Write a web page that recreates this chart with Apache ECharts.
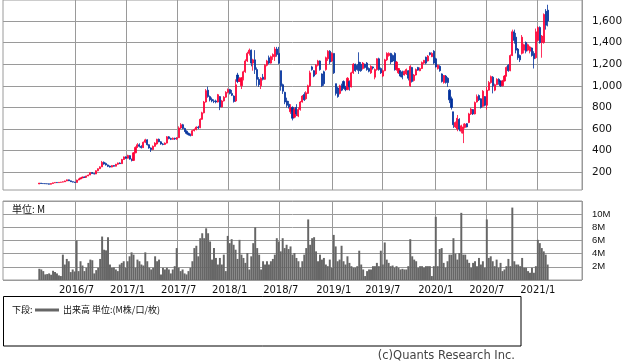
<!DOCTYPE html>
<html><head><meta charset="utf-8">
<script src="https://cdn.jsdelivr.net/npm/echarts@6.0.0/dist/echarts.min.js"></script>
<style>html,body{margin:0;padding:0;background:#fff}#c{width:638px;height:362px}</style>
</head><body><div id="c"></div>
<script>
// weekly categories: Mondays starting 2015/10/19, 295 weeks on the axis
const firstWeek = [2015, 10, 19];
const weekCount = 295;
const dataOffset = 18; // first traded week = 2016/02/22
const xTickLabels = ['2016/7','2017/1','2017/7','2018/1','2018/7','2019/1','2019/7','2020/1','2020/7','2021/1'];

const opens = [
92,100,96,95,94,93,89,96,102,106,
104,107,109,112,120,130,121,113,109,106,
128,138,148,156,153,166,175,197,188,184,
214,233,250,292,282,268,258,248,262,256,
274,286,280,318,342,330,354,322,310,380,
430,455,440,428,478,500,455,425,410,440,
462,505,482,462,458,470,528,512,505,515,
508,520,610,640,605,580,560,548,540,585,
595,618,612,690,750,850,960,900,875,860,
860,850,900,805,860,895,940,965,930,905,
860,1100,1040,1000,1075,1130,1230,1300,1330,1210,
1240,1150,1060,1000,1080,1060,1190,1260,1210,1270,
1270,1340,1300,1140,1010,940,860,830,760,800,
710,800,720,780,850,920,880,930,1000,1175,
1140,1110,1190,1230,1110,1130,1150,1250,1320,1230,
1300,1020,980,930,1000,1040,985,965,1040,990,
1120,1200,1190,1220,1200,1160,1200,1210,1160,1120,
1175,1080,1150,1250,1160,1090,1140,1240,1280,1300,
1280,1300,1150,1120,1140,1130,1100,1110,1140,1000,
1170,1050,1100,1170,1140,1160,1210,1265,1230,1305,
1270,1320,1250,1160,1180,1110,1030,1090,1070,960,
880,760,620,600,690,580,560,615,650,660,
740,780,740,850,910,880,810,900,820,960,
1030,1080,960,1010,1060,1045,1000,1045,1090,1190,
1140,1280,1500,1450,1340,1280,1300,1330,1400,1330,
1320,1350,1300,1260,1420,1540,1400,1400,1690,1700];

const closes = [
100,96,95,94,93,90,96,102,106,104,
107,109,112,120,130,121,113,109,106,128,
138,148,156,153,166,175,196,188,184,214,
233,250,292,276,268,255,248,262,256,274,
286,280,318,342,330,356,322,310,380,430,
455,440,428,478,500,455,425,410,440,470,
505,482,462,458,470,528,512,505,515,508,
520,610,640,605,580,560,548,540,585,595,
618,612,690,750,850,955,900,870,860,855,
850,918,805,860,895,940,965,930,912,855,
1010,1040,1065,1075,1130,1230,1300,1330,1210,1240,
1150,1060,1010,1070,1060,1190,1230,1210,1270,1290,
1340,1290,1210,1000,950,850,820,800,800,700,
780,740,780,850,905,870,935,1000,1120,1150,
1090,1190,1230,1150,1000,1020,1260,1320,1220,1300,
1120,930,900,1000,960,985,965,1070,990,1120,
1200,1140,1150,1140,1140,1210,1170,1150,1135,1180,
1165,1150,1250,1150,1120,1140,1240,1300,1300,1220,
1230,1150,1220,1160,1090,1080,1135,1150,1070,1180,
1040,1100,1150,1145,1160,1215,1235,1210,1275,1290,
1300,1210,1175,1190,1140,1040,1095,1030,1030,870,
800,640,660,700,600,630,620,645,620,740,
785,740,845,900,870,800,950,820,960,1030,
1085,1000,1010,1060,1040,1000,1045,1090,1170,1140,
1280,1500,1420,1330,1260,1240,1450,1380,1320,1380,
1360,1280,1250,1500,1540,1400,1460,1660,1560,1600];

const lows = [
90,94,93,92,91,88,87,95,100,102,
103,105,107,111,118,119,111,106,104,105,
126,136,145,150,151,164,173,185,180,183,
210,230,248,270,262,248,244,246,252,254,
270,276,278,314,324,326,316,300,304,376,
426,430,420,425,470,448,418,388,405,436,
455,478,455,450,452,466,505,498,500,500,
500,518,600,598,572,550,540,532,536,578,
588,600,608,685,745,845,890,855,848,840,
838,845,775,800,855,890,930,920,905,845,
850,1025,1035,970,1050,1120,1220,1280,1180,1140,
1110,1000,990,970,1050,1055,1180,1200,1205,1240,
1230,1270,1200,955,925,830,800,790,740,680,
700,720,710,770,845,860,870,925,990,1140,
1080,1100,1180,1140,990,1000,1140,1230,1200,1220,
1110,910,890,920,950,970,950,960,955,985,
1110,1130,1140,1110,1130,1150,1160,1140,1125,1110,
1150,1060,1140,1140,1110,1080,1135,1230,1270,1200,
1220,1140,1140,1110,1080,1060,1095,1100,1050,990,
1030,1040,1095,1140,1135,1155,1200,1200,1225,1280,
1265,1200,1170,1150,1130,1030,1020,1020,990,840,
780,610,610,580,580,560,470,605,615,655,
730,730,735,845,860,790,800,810,780,955,
1020,930,950,1005,1010,990,995,1040,1085,1130,
1135,1275,1390,1300,1240,1220,1290,1300,1300,1320,
1300,1270,1160,1250,1410,1390,1260,1390,1520,1550];

const highs = [
102,101,98,97,96,95,98,104,108,108,
109,111,115,123,133,132,123,115,111,131,
141,151,160,159,168,178,199,202,192,218,
236,255,305,300,290,272,262,266,266,278,
290,292,324,346,348,362,358,326,386,440,
470,468,450,485,510,505,460,430,448,478,
510,512,488,470,476,535,535,520,522,520,
525,625,655,648,612,588,568,558,592,605,
625,630,700,760,860,970,992,910,892,875,
872,925,905,870,905,950,975,972,962,912,
1060,1120,1080,1080,1140,1245,1315,1345,1335,1250,
1330,1170,1080,1080,1110,1200,1240,1280,1280,1300,
1360,1360,1360,1140,1020,945,890,860,830,810,
800,830,800,860,915,940,950,1010,1140,1185,
1145,1200,1240,1235,1115,1140,1270,1330,1330,1310,
1300,1020,990,1010,1020,1050,1000,1080,1050,1130,
1210,1205,1200,1310,1220,1220,1205,1220,1170,1190,
1180,1160,1255,1260,1170,1150,1250,1310,1310,1305,
1290,1310,1230,1165,1145,1140,1140,1160,1145,1190,
1175,1110,1160,1175,1170,1225,1240,1270,1285,1310,
1310,1330,1260,1195,1190,1115,1100,1100,1080,970,
900,760,670,730,700,640,650,655,655,750,
795,785,855,920,920,885,960,905,990,1045,
1095,1090,1020,1070,1070,1050,1055,1100,1180,1200,
1290,1520,1520,1490,1350,1290,1470,1390,1410,1390,
1370,1355,1320,1530,1550,1550,1470,1670,1710,1750];

// weekly volume in millions
const volumes = [
1.7,1.6,1.35,0.85,0.9,1.0,0.8,1.4,1.2,1.0,
0.7,0.6,3.85,2.35,3.2,2.85,1.2,1.6,1.3,6.0,
1.35,2.85,2.2,1.35,1.85,2.6,3.1,3.0,1.0,1.5,
1.85,3.2,6.6,4.6,4.5,6.5,2.35,1.85,1.9,1.6,
1.35,2.35,2.6,2.85,1.85,2.85,3.6,4.2,3.85,1.85,
3.1,2.85,2.35,2.2,4.2,2.85,1.85,1.6,1.85,3.6,
2.85,3.1,0.85,1.85,1.6,1.85,1.6,1.0,1.6,2.1,
4.85,1.85,1.35,1.6,1.0,0.85,1.35,1.85,2.85,4.85,
5.2,3.6,6.35,7.1,6.35,7.85,7.1,5.85,3.1,4.85,
3.35,2.35,3.35,2.35,3.85,1.35,6.7,5.6,6.2,5.35,
4.6,3.2,6.1,3.85,3.35,2.6,4.1,1.6,3.6,5.6,
8.0,4.85,3.85,1.6,2.85,2.35,2.85,2.35,2.85,3.2,
3.85,6.35,5.85,4.35,6.35,4.85,5.35,4.7,5.1,3.85,
4.1,3.35,2.85,1.85,2.85,3.85,4.85,9.2,5.35,6.35,
6.5,4.35,2.85,3.85,3.1,3.35,2.35,2.1,3.1,1.85,
6.85,5.1,2.85,3.1,5.2,2.85,2.35,3.6,2.6,2.1,
1.85,1.85,2.1,4.45,2.35,1.6,0.6,1.35,1.6,1.6,
2.1,2.1,2.6,2.1,4.45,2.35,5.7,3.1,2.6,2.1,
2.2,1.85,2.1,1.85,1.6,1.7,1.6,1.6,2.1,6.2,
3.6,3.1,2.85,1.85,2.1,2.1,1.85,2.1,2.1,2.1,
0.6,2.1,9.6,2.1,4.7,4.85,2.6,1.85,2.85,3.85,
3.85,6.35,4.0,3.1,4.1,10.2,3.85,3.85,3.1,2.6,
1.85,2.6,2.85,2.1,3.35,2.35,2.85,1.85,9.2,3.35,
3.6,2.85,2.1,3.1,1.85,2.6,1.35,1.6,2.1,3.2,
2.1,11.0,2.85,2.35,2.35,2.1,3.35,1.85,1.85,1.35,
1.1,1.85,1.1,2.1,6.1,5.6,4.85,4.35,3.85,2.35];

// ---------- build ----------
const pad = n => String(n).padStart(2, '0');
const categories = [];
const t0 = Date.UTC(firstWeek[0], firstWeek[1] - 1, firstWeek[2]);
for (let k = 0; k < weekCount; k++) {
  const d = new Date(t0 + k * 7 * 86400000);
  categories.push(d.getUTCFullYear() + '/' + pad(d.getUTCMonth() + 1) + '/' + pad(d.getUTCDate()));
}
const shortLabel = v => { const p = v.split('/'); return p[0] + '/' + (+p[1]); };
const isMark = (idx, v) => { const p = v.split('/'); return +p[2] <= 7 && xTickLabels.indexOf(shortLabel(v)) >= 0; };

const candleData = [], volData = [];
for (let k = 0; k < weekCount; k++) {
  const i = k - dataOffset;
  if (i >= 0 && i < opens.length) {
    candleData.push([opens[i], closes[i], lows[i], highs[i]]);
    volData.push(volumes[i]);
  } else {
    candleData.push(['-', '-', '-', '-']);
    volData.push('-');
  }
}

const GRID = '#9a9a9a';
const UP = '#ff0036', DOWN = '#00309c';
const chart = echarts.init(document.getElementById('c'), null, {renderer: 'canvas'});
chart.setOption({
  animation: false,
  backgroundColor: '#fff',
  grid: [
    {left: 3, right: 56, top: 0, height: 190, show: true, borderColor: GRID, borderWidth: 1, backgroundColor: 'transparent'},
    {left: 3, right: 56, top: 201, height: 79, show: true, borderColor: GRID, borderWidth: 1, backgroundColor: 'transparent'}
  ],
  xAxis: [
    {type: 'category', gridIndex: 0, data: categories, boundaryGap: true,
     axisLine: {show: false}, axisTick: {show: false}, axisLabel: {show: false},
     splitLine: {show: true, interval: isMark, lineStyle: {color: GRID, width: 1}}},
    {type: 'category', gridIndex: 1, data: categories, boundaryGap: true,
     axisLine: {show: false}, axisTick: {show: false},
     axisLabel: {interval: isMark, formatter: shortLabel, fontSize: 10, margin: 5, color: '#111', fontFamily: 'DejaVu Sans'},
     splitLine: {show: true, interval: isMark, lineStyle: {color: GRID, width: 1}}}
  ],
  yAxis: [
    {type: 'value', gridIndex: 0, position: 'right', min: 36, max: 1794, splitNumber: 9, scale: true,
     axisLine: {show: false}, axisTick: {show: false},
     axisLabel: {showMinLabel: false, showMaxLabel: false, margin: 10, fontSize: 10.5, color: '#111', fontFamily: 'DejaVu Sans',
       formatter: v => Number(v).toLocaleString('en-US')},
     splitLine: {show: true, showMinLine: false, showMaxLine: false, lineStyle: {color: GRID, width: 1}}},
    {type: 'value', gridIndex: 1, position: 'right', min: 0, max: 12, interval: 2,
     axisLine: {show: false}, axisTick: {show: false},
     axisLabel: {showMinLabel: false, showMaxLabel: false, margin: 10, fontSize: 9.5, color: '#111', fontFamily: 'Liberation Sans',
       formatter: v => (v === 0 || v === 12) ? '' : v + 'M'},
     splitLine: {show: true, lineStyle: {color: GRID, width: 1}}}
  ],
  series: [
    {type: 'candlestick', xAxisIndex: 0, yAxisIndex: 0, data: candleData, barWidth: 1.6, large: false,
     itemStyle: {color: UP, color0: DOWN, borderColor: UP, borderColor0: DOWN, borderWidth: 0.8}},
    {type: 'bar', xAxisIndex: 1, yAxisIndex: 1, data: volData, barCategoryGap: '0%',
     itemStyle: {color: '#666666'}}
  ],
  graphic: [
    {type: 'text', left: 12, top: 204, style: {text: '単位: M', font: '10px "Noto Sans CJK JP"', fill: '#111'}},
    {type: 'rect', shape: {x: 3.5, y: 296.5, width: 517.5, height: 49.5}, style: {fill: 'none', stroke: '#000', lineWidth: 1}},
    {type: 'text', x: 12, y: 310, style: {text: '下段:', font: '9px "Noto Sans CJK JP"', fill: '#111', textVerticalAlign: 'middle'}},
    {type: 'line', shape: {x1: 35, y1: 310, x2: 59, y2: 310}, style: {stroke: '#666', lineWidth: 3}},
    {type: 'text', x: 63, y: 310, style: {text: '出来高 単位:(M株/口/枚)', font: '9px "Noto Sans CJK JP"', fill: '#111', textVerticalAlign: 'middle'}},
    {type: 'text', x: 515, y: 356, style: {text: '(c)Quants Research Inc.', font: '11.5px "DejaVu Sans"', fill: '#444', textAlign: 'right', textVerticalAlign: 'middle'}}
  ]
});
</script>
</body></html>
